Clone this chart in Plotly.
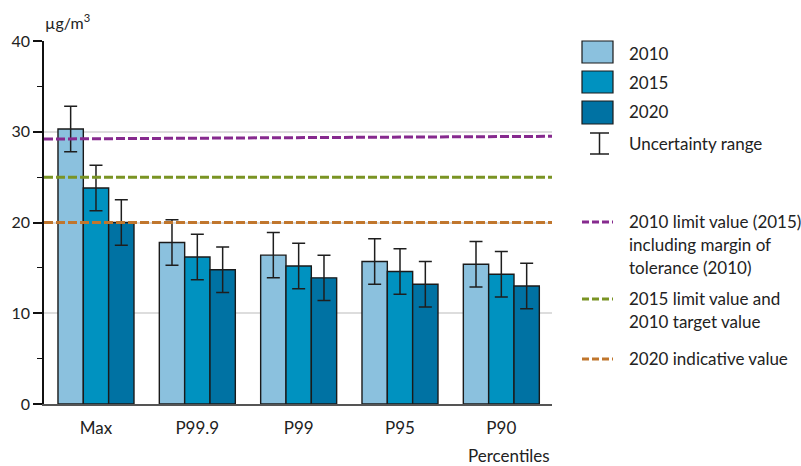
import plotly.graph_objects as go

categories = ["Max", "P99.9", "P99", "P95", "P90"]
years = ["2010", "2015", "2020"]
values_2010 = [30.3, 17.8, 16.4, 15.7, 15.4]
values_2015 = [23.8, 16.2, 15.2, 14.6, 14.3]
values_2020 = [20.0, 14.8, 13.9, 13.2, 13.0]
uncertainty = 2.5
y_ticks = [0, 10, 20, 30, 40]

limit_2010_start = 29.2   # limit value incl. margin (2010), slightly sloped line
limit_2010_end = 29.5
limit_2015 = 25.0
indicative_2020 = 20.0

bar_colors = ["#8bc1de", "#0092c0", "#0072a3"]
line_colors = ["#862a8e", "#7a9424", "#c0762d"]
FONT = "Lato"
TXT = "#222222"
FS = 17

fig = go.Figure()
for name, vals, col in zip(years, [values_2010, values_2015, values_2020], bar_colors):
    fig.add_trace(go.Bar(
        x=categories, y=vals, name=name, marker_color=col,
        marker_line_color="#1a1a1a", marker_line_width=1.4,
        error_y=dict(type="constant", value=uncertainty, color="#1e1e1e",
                     thickness=1.5, width=6.5),
        showlegend=False,
    ))

# reference lines (data values on y axis, spanning the plot width)
ref_lines = [(limit_2010_start, limit_2010_end, line_colors[0]),
             (limit_2015, limit_2015, line_colors[1]),
             (indicative_2020, indicative_2020, line_colors[2])]
shapes = []
for y0, y1, c in ref_lines:
    shapes.append(dict(type="line", xref="x domain", yref="y", x0=0, x1=1, y0=y0, y1=y1,
                       line=dict(color=c, width=3, dash="9px,3px"), layer="above"))

# ---- custom legend in pixel-based paper coordinates ----
L, R, T, B = 44, 249, 41, 62
W, H = 801 - L - R, 466 - T - B
px = lambda x: (x - L) / W
py = lambda y: (466 - B - y) / H

annotations = []
sw_x0, sw_x1, txt_x = 582, 613, 627
for (ytop, ybot, yc), name, col in zip([(41, 63, 53), (71, 93, 83), (101, 124, 112)], years, bar_colors):
    shapes.append(dict(type="rect", xref="paper", yref="paper", x0=px(sw_x0), x1=px(sw_x1),
                       y0=py(ybot), y1=py(ytop), fillcolor=col,
                       line=dict(color="#1a1a1a", width=1.2)))
    annotations.append(dict(text=name, xref="paper", yref="paper", x=px(txt_x), y=py(yc),
                            xanchor="left", yanchor="middle", showarrow=False,
                            font=dict(family=FONT, size=FS, color=TXT)))
# uncertainty symbol
ex, ec0, ec1, ey0, ey1 = 599.5, 590, 609, 133, 154
for sh in [(ex, ey0, ex, ey1), (ec0, ey0, ec1, ey0), (ec0, ey1, ec1, ey1)]:
    shapes.append(dict(type="line", xref="paper", yref="paper", x0=px(sh[0]), y0=py(sh[1]),
                       x1=px(sh[2]), y1=py(sh[3]), line=dict(color="#1e1e1e", width=1.5)))
annotations.append(dict(text="Uncertainty range", xref="paper", yref="paper", x=px(txt_x), y=py(143),
                        xanchor="left", yanchor="middle", showarrow=False,
                        font=dict(family=FONT, size=FS, color=TXT)))

line_legend = [
    (222, ["2010 limit value (2015)", "including margin of", "tolerance (2010)"], line_colors[0]),
    (299, ["2015 limit value and", "2010 target value"], line_colors[1]),
    (359, ["2020 indicative value"], line_colors[2]),
]
for y, lines, col in line_legend:
    shapes.append(dict(type="line", xref="paper", yref="paper", x0=px(sw_x0), x1=px(sw_x1),
                       y0=py(y), y1=py(y), line=dict(color=col, width=3, dash="7px,3px")))
    for i, t in enumerate(lines):
        annotations.append(dict(text=t, xref="paper", yref="paper", x=px(txt_x), y=py(y - 1 + 23 * i),
                                xanchor="left", yanchor="middle", showarrow=False,
                                font=dict(family=FONT, size=FS, color=TXT)))

annotations.append(dict(text="µg/m<sup>3</sup>", xref="paper", yref="paper", x=px(43), y=py(21),
                        xanchor="left", yanchor="middle", showarrow=False,
                        font=dict(family=FONT, size=16, color=TXT)))
annotations.append(dict(text="Percentiles", xref="paper", yref="paper", x=1, y=py(455),
                        xanchor="right", yanchor="middle", showarrow=False,
                        font=dict(family=FONT, size=FS, color=TXT)))

fig.update_layout(
    width=801, height=466,
    margin=dict(l=L, r=R, t=T, b=B),
    paper_bgcolor="white", plot_bgcolor="white",
    barmode="group", bargap=0.25, bargroupgap=0,
    font=dict(family=FONT, size=FS, color=TXT),
    shapes=shapes, annotations=annotations,
    xaxis=dict(range=[-0.513, 4.50], showgrid=False, showline=True, linecolor="#555555",
               linewidth=2, ticks="outside", ticklen=8, tickcolor="rgba(0,0,0,0)",
               tickfont=dict(family=FONT, size=FS, color=TXT), fixedrange=True),
    yaxis=dict(range=[0, 40], tickvals=y_ticks, showgrid=True, gridcolor="#dddddd", gridwidth=1.5,
               showline=True, linecolor="#111111", linewidth=1.5, ticks="outside", ticklen=9,
               tickcolor="#111111", tickwidth=1.5, zeroline=False,
               minor=dict(dtick=5, ticks="outside", ticklen=5, tickcolor="#111111", tickwidth=1.2, showgrid=False),
               tickfont=dict(family=FONT, size=16, color=TXT)),
)

fig.write_html("out.html")
